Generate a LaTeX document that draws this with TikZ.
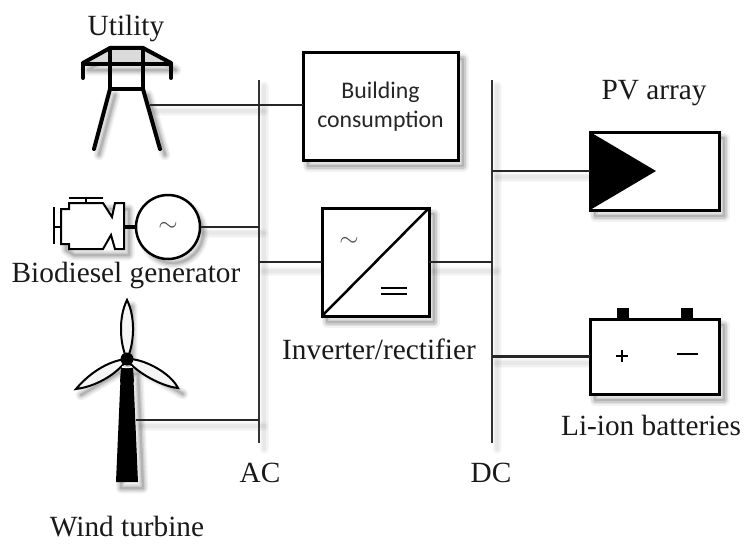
\documentclass[tikz,border=0pt]{standalone}
\usepackage{fontspec}
\setmainfont{Liberation Serif}
\newfontfamily\bldfont{Carlito}
\newcommand{\softsh}[1]{%
  \foreach \wd/\op in {11/.05,8/.07,5/.09,2.5/.12}{
    \draw[shift={(5,6)},black,opacity=\op,line width=\wd pt,line join=round,line cap=round] #1;
  }}
\newcommand{\faintsh}[1]{%
  \foreach \wd/\op in {10/.025,7/.03,4/.035}{
    \draw[shift={(5,6)},black,opacity=\op,line width=\wd pt,line join=round,line cap=round] #1;
  }}
\tikzset{
  x=1pt,y=-1pt,
  wire/.style={line width=2.2pt,draw=black!85},
  bus/.style={line width=2.6pt,draw=black!80},
  heavy/.style={line width=4pt,draw=black,line join=round,line cap=round},
  thin part/.style={line width=2pt,draw=black,line join=miter},
  lbl/.style={font=\fontsize{29.3}{32}\selectfont,inner sep=0pt,text=black!90},
  boxnode/.style={draw=black,line width=3pt,fill=white,inner sep=0pt,outer sep=0pt}
}
\begin{document}
\begin{tikzpicture}
\useasboundingbox (0,0) rectangle (746,543);
% shadows
\softsh{(303,53) rectangle (458,160)}
\softsh{(322,208) rectangle (429,316)}
\softsh{(590,132) rectangle (719,210)}
\softsh{(590,319) rectangle (719,394)}
\softsh{(168,227) circle (30)}
\faintsh{(259,80) -- (259,443)}
\faintsh{(492,80) -- (492,443)}
\faintsh{(150,105) -- (259,105)}
\faintsh{(200,227) -- (259,227)}
\faintsh{(259,265) -- (322,265)}
\faintsh{(429,265) -- (492,265)}
\faintsh{(136,420) -- (259,420)}
\faintsh{(492,171) -- (590,171)}
\faintsh{(492,357) -- (590,357)}
\softsh{(110,48) -- (143,48) -- (171,64) -- (83,64) -- cycle (110,89) -- (94,149) (143,89) -- (160,149)}
\softsh{(61,209) -- (69,203) -- (124,203) -- (124,249) -- (69,249) -- (61,244) -- cycle}
\softsh{(121,368) -- (133,368) -- (138,482) -- (116,482) -- cycle}
\softsh{(127,300) -- (127,359) -- (76,389) (127,359) -- (178,388)}
% bus bars
\coordinate (acTop) at (259,80); \coordinate (acEnd) at (259,443);
\coordinate (dcTop) at (492,80); \coordinate (dcEnd) at (492,443);
\draw[bus] (acTop) -- (acEnd);
\draw[bus] (dcTop) -- (dcEnd);
% utility tower
\fill[black!14] (110,48) -- (143,48) -- (171,63) -- (83,63) -- cycle;
\draw[heavy] (83,78) -- (83,64) -- (171,64) -- (171,78);
\draw[heavy] (143,48) -- (171,63) (110,48) -- (83,63) (110,48) -- (143,48);
\draw[heavy] (110,48) -- (110,89) -- (143,89) -- (143,48);
\draw[heavy] (110,89) -- (94,149);
\draw[heavy] (143,89) -- (160,149);
\coordinate (towerPort) at (150,105);
% building
\node[boxnode,minimum width=155pt,minimum height=107pt,align=center,font=\bldfont\fontsize{23.8}{29}\selectfont,text=black!85] (building) at (380.5,106.5) {Building\\consumption};
% generator
\node[draw=black,line width=2.5pt,fill=white,circle,minimum size=64pt,inner sep=0pt,font=\fontsize{26}{26}\selectfont,text=black!70] (gen) at (168,227) {$\sim$};
\draw[thin part,fill=white] (61,209) -- (69,209) -- (69,203) -- (103,203) -- (112,217) -- (115,203) -- (124,203) -- (124,249) -- (115,249) -- (111,235) -- (103,249) -- (69,249) -- (69,244) -- (61,244) -- cycle;
\draw[thin part] (54,207) -- (54,244) (54,227) -- (61,227);
\draw[thin part] (69,197.5) -- (103,197.5) (86,197.5) -- (86,203);
\coordinate (engPort) at (124,227);
\draw[line width=4pt] (engPort) -- (gen.west);
% wind turbine
\fill[black] (121,368) -- (133,368) -- (138,482) -- (116,482) -- cycle;
\draw[line width=2pt,fill=black!4] (127,300) .. controls (118,318) and (120,345) .. (127,359) .. controls (134,345) and (136,318) .. (127,300) -- cycle;
\draw[line width=2pt,fill=black!4] (76,389) .. controls (92,370) and (112,360) .. (127,359) .. controls (121,370) and (100,386) .. (76,389) -- cycle;
\draw[line width=2pt,fill=black!4] (178,388) .. controls (170,372) and (142,358) .. (127,359) .. controls (131,368) and (158,386) .. (178,388) -- cycle;
\fill[black] (121,370) -- (133,370) -- (134,382) -- (120,382) -- cycle;
\fill[black] (127,359) circle (6.5);
\draw[white,line width=1.2pt] (122,366.5) .. controls (125,368) and (129,368) .. (132,366.5);
\coordinate (turbPort) at (136,420);
% inverter
\node[boxnode,minimum width=107pt,minimum height=108pt] (inv) at (375.5,262) {};
\draw[line width=2.5pt] (inv.south west) -- (inv.north east);
\node[inner sep=0pt,font=\fontsize{24}{24}\selectfont,text=black!70] (invAc) at (349,242) {$\sim$};
\draw[line width=2pt] (381,288) -- (407,288) (381,293.5) -- (407,293.5);
% PV
\node[boxnode,minimum width=129pt,minimum height=78pt] (pv) at (654.5,171) {};
\fill[black] (pv.north west) -- (656,171) -- (pv.south west) -- cycle;
% battery
\fill[black] (617,308) rectangle (629,319);
\fill[black] (681,308) rectangle (693,319);
\node[boxnode,minimum width=129pt,minimum height=75pt] (bat) at (654.5,356.5) {};
\draw[line width=2.8pt] (616,356) -- (628,356) (622,350) -- (622,362);
\draw[line width=2.8pt] (677,354) -- (698,354);
% connectors
\draw[wire] (towerPort) -- (towerPort -| acTop);
\draw[wire] (building.west |- towerPort) -- (towerPort -| acTop);
\draw[wire] (gen.east) -- (gen.east -| acTop);
\draw[wire] (inv.west) -- (inv.west -| acTop);
\draw[wire] (inv.east) -- (inv.east -| dcTop);
\draw[wire] (turbPort) -- (turbPort -| acTop);
\draw[wire] (pv.west) -- (pv.west -| dcTop);
\draw[wire] (bat.west) -- (bat.west -| dcTop);
% labels
\node[lbl] (tUtility) at (126,28) {Utility};
\node[lbl] (tBio) at (126,275) {Biodiesel generator};
\node[lbl] (tInv) at (379,349) {Inverter/rectifier};
\node[lbl] (tWind) at (127,527) {Wind turbine};
\node[lbl] (tAC) at (260,473) {AC};
\node[lbl] (tDC) at (491,473) {DC};
\node[lbl] (tPV) at (654,93) {PV array};
\node[lbl] (tLi) at (651,425) {Li-ion batteries};
\end{tikzpicture}
\end{document}
